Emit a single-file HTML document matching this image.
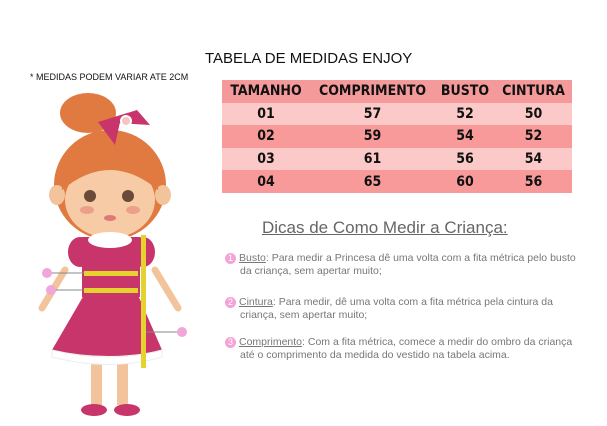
<!DOCTYPE html>
<html><head><meta charset="utf-8"><style>
body{margin:0;width:607px;height:426px;background:#fff;position:relative;overflow:hidden;font-family:"Liberation Sans",sans-serif}
.t{position:absolute}
table{position:absolute;left:222px;top:80px;width:350px;border-collapse:collapse;font-family:"DejaVu Sans Condensed","Liberation Sans",sans-serif;font-size:14px;font-weight:bold;color:#111}
td{text-align:center;padding:0;height:22.6px}
.r0{background:#f59a9a}.r1{background:#fcc9c9}.r2{background:#f89a9a}
.d{position:absolute;left:240px;font-size:10.5px;color:#777;line-height:13px;width:345px}
.n{display:inline-block;width:11px;height:11px;border-radius:6px;background:#f3a3d6;color:#fff;font-size:9px;text-align:center;line-height:11px;margin-left:-15px;margin-right:3px}
u{color:#777}
</style></head><body>
<div class="t" style="left:205px;top:50px;font-size:15px;color:#111">TABELA DE MEDIDAS ENJOY</div>
<div class="t" style="left:30px;top:72px;font-size:9px;color:#111">* MEDIDAS PODEM VARIAR ATE 2CM</div>
<table>
<tr class="r0"><td style="width:88px">TAMANHO</td><td style="width:125px">COMPRIMENTO</td><td style="width:60px">BUSTO</td><td>CINTURA</td></tr>
<tr class="r1"><td>01</td><td>57</td><td>52</td><td>50</td></tr>
<tr class="r2"><td>02</td><td>59</td><td>54</td><td>52</td></tr>
<tr class="r1"><td>03</td><td>61</td><td>56</td><td>54</td></tr>
<tr class="r2"><td>04</td><td>65</td><td>60</td><td>56</td></tr>
</table>
<div class="t" style="left:262px;top:218px;font-size:17px;color:#666;text-decoration:underline">Dicas de Como Medir a Criança:</div>
<div class="d" style="top:252px"><span class="n">1</span><u>Busto</u>: Para medir a Princesa dê uma volta com a fita métrica pelo busto da criança, sem apertar muito;</div>
<div class="d" style="top:296px"><span class="n">2</span><u>Cintura</u>: Para medir, dê uma volta com a fita métrica pela cintura da criança, sem apertar muito;</div>
<div class="d" style="top:336px"><span class="n">3</span><u>Comprimento</u>: Com a fita métrica, comece a medir do ombro da criança até o comprimento da medida do vestido na tabela acima.</div>
<svg class="t" style="left:0;top:0" width="220" height="426">
<ellipse cx="88" cy="113" rx="28" ry="20" fill="#e07a40"/>
<ellipse cx="110" cy="185" rx="56" ry="55" fill="#e07a40"/>
<polygon points="98,122 137,110 150,125" fill="#c8356a"/>
<polygon points="98,122 120,122 115,145" fill="#c8356a"/>
<circle cx="126" cy="121" r="5" fill="#f7c5c0" stroke="#fff" stroke-width="2"/>
<rect x="100" y="220" width="20" height="20" fill="#f3c39b"/>
<ellipse cx="57" cy="195" rx="8" ry="10" fill="#f3c39b"/>
<ellipse cx="163" cy="195" rx="8" ry="10" fill="#f3c39b"/>
<ellipse cx="110" cy="200" rx="45" ry="38" fill="#f6cba5"/>
<path d="M62,190 Q110,150 158,190 L160,165 Q110,125 60,165Z" fill="#e07a40"/>
<ellipse cx="90" cy="196" rx="6" ry="6" fill="#6b4a3a"/>
<ellipse cx="128" cy="196" rx="6" ry="6" fill="#6b4a3a"/>
<ellipse cx="87" cy="210" rx="7" ry="4" fill="#eba08a"/>
<ellipse cx="133" cy="210" rx="7" ry="4" fill="#eba08a"/>
<ellipse cx="110" cy="218" rx="6" ry="3" fill="#e07878"/>
<line x1="65" y1="270" x2="42" y2="308" stroke="#f3c39b" stroke-width="7" stroke-linecap="round"/>
<line x1="155" y1="270" x2="178" y2="308" stroke="#f3c39b" stroke-width="7" stroke-linecap="round"/>
<rect x="91" y="360" width="11" height="45" fill="#f3c39b"/>
<rect x="117" y="360" width="11" height="45" fill="#f3c39b"/>
<ellipse cx="94" cy="410" rx="13" ry="6" fill="#c8356a"/>
<ellipse cx="127" cy="410" rx="13" ry="6" fill="#c8356a"/>
<ellipse cx="80" cy="252" rx="12" ry="15" fill="#c8356a"/>
<ellipse cx="143" cy="252" rx="12" ry="15" fill="#c8356a"/>
<rect x="82" y="237" width="58" height="60" fill="#c8356a"/>
<path d="M84,295 L138,295 L162,350 Q110,362 52,350Z" fill="#c8356a"/>
<path d="M52,350 Q110,364 162,350 L162,357 Q110,372 52,357Z" fill="#fff" stroke="#eee"/>
<ellipse cx="110" cy="240" rx="22" ry="8" fill="#fff"/>
<rect x="84" y="271" width="54" height="5" fill="#e6d22e"/>
<rect x="84" y="288" width="54" height="5" fill="#e6d22e"/>
<rect x="141" y="235" width="5" height="133" fill="#e6d22e"/>
<line x1="50" y1="273" x2="84" y2="273" stroke="#888"/>
<line x1="55" y1="290" x2="84" y2="290" stroke="#888"/>
<line x1="146" y1="332" x2="178" y2="332" stroke="#888"/>
<circle cx="47" cy="273" r="5" fill="#f0a6d8"/><circle cx="51" cy="290" r="5" fill="#f0a6d8"/><circle cx="182" cy="332" r="5" fill="#f0a6d8"/>
</svg>
</body></html>
